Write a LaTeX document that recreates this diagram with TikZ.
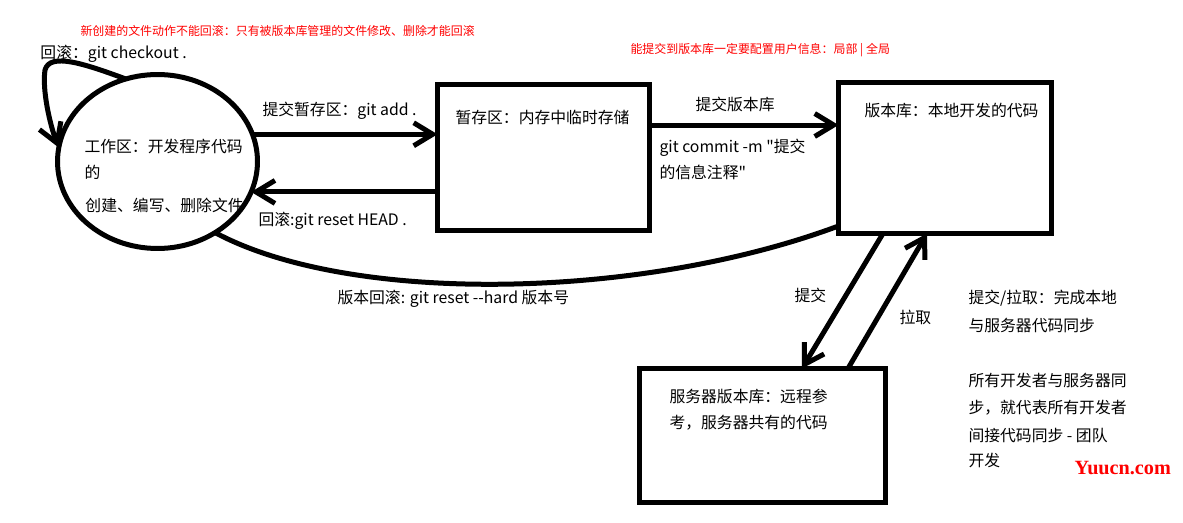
\documentclass[tikz,border=0pt]{standalone}
\usepackage{fontspec}
\setmainfont{Noto Sans CJK SC}[Ligatures=TeXOff]
\newfontfamily\wmfont{Liberation Serif}
\usepackage{tikz}
\usetikzlibrary{arrows.meta,shapes.geometric}

\begin{document}
\begin{tikzpicture}[x=0.02cm,y=-0.02cm,line width=0.1cm,>={Straight Barb[length=0.38cm,width=0.46cm]},
  box/.style={draw,rectangle,inner sep=0pt,outer sep=0pt},
  txt/.style={anchor=west,inner sep=0pt,text height=0.8em,text depth=0.2em,font=\fontsize{9}{11}\selectfont},
  note/.style={txt,text=red,font=\fontsize{6.8}{8}\selectfont}]
\useasboundingbox (0,0) rectangle (1183,523);
\node[draw,ellipse,inner sep=0pt,outer sep=0pt,minimum width=4cm,minimum height=3.48cm] (work) at (157.5,161.5) {};
\node[box,minimum width=4.24cm,minimum height=2.92cm] (stage) at (543.5,157.5) {};
\node[box,minimum width=4.26cm,minimum height=3.02cm] (repo) at (945,158) {};
\node[box,minimum width=4.92cm,minimum height=2.68cm] (server) at (762.5,435.5) {};
\node[txt] (worktxt1) at (82,147) {工作区：开发程序代码};
\node[txt] (worktxt2) at (82,173) {的};
\node[txt] (worktxt3) at (83,206) {创建、编写、删除文件};
\node[txt] (stagetxt) at (453,118) {暂存区：内存中临时存储};
\node[txt] (repotxt) at (862,111) {版本库：本地开发的代码};
\node[txt] (servertxt1) at (667,397) {服务器版本库：远程参};
\node[txt] (servertxt2) at (667,423) {考，服务器共有的代码};
\node[note] (tip1) at (78,30) {新创建的文件动作不能回滚：只有被版本库管理的文件修改、删除才能回滚};
\node[note] (tip2) at (628,48) {能提交到版本库一定要配置用户信息：局部 | 全局};
\node[txt] (checkout) at (38,53) {回滚：git checkout .};
\node[txt] (add) at (260,110) {提交暂存区：git add .};
\node[txt] (head) at (256,220) {回滚:git reset HEAD .};
\node[txt] (commit) at (693,105) {提交版本库};
\node[txt] (msg1) at (657,147) {git commit -m "提交};
\node[txt] (msg2) at (657,173) {的信息注释"};
\node[txt] (hard) at (335,298) {版本回滚: git reset --hard 版本号};
\node[txt] (push) at (792,296) {提交};
\node[txt] (pull) at (897,318) {拉取};
\node[txt] (sync1) at (966,298) {提交/拉取：完成本地};
\node[txt] (sync2) at (966,326) {与服务器代码同步};
\node[txt] (team1) at (966,381) {所有开发者与服务器同};
\node[txt] (team2) at (966,408) {步，就代表所有开发者};
\node[txt] (team3) at (966,436) {间接代码同步 - 团队};
\node[txt] (team4) at (966,461) {开发};
\node[anchor=west,inner sep=0pt,text=red,font=\wmfont\fontsize{11.5}{12}\selectfont\bfseries] (mark) at (1072,468) {Yuucn.com};
\draw[->] (work.111) .. controls (85,64) and (50,52) .. (45,70) .. controls (42,90) and (50,125) .. (work.172);
\draw[->] (work.16) -- (stage.west |- work.16);
\draw[->] (stage.west |- work.-18) -- (work.-18);
\draw[->] ([yshift=0.65cm]stage.east) -- ([yshift=0.65cm]stage.east -| repo.west);
\draw (work.-51) .. controls (350,305) and (640,300) .. ([yshift=-1.36cm]repo.west);
\draw[->] ([xshift=-1.24cm]repo.south) -- ([xshift=0.79cm]server.north);
\draw[->] ([xshift=1.71cm]server.north) -- ([xshift=-0.36cm]repo.south);
\end{tikzpicture}
\end{document}
